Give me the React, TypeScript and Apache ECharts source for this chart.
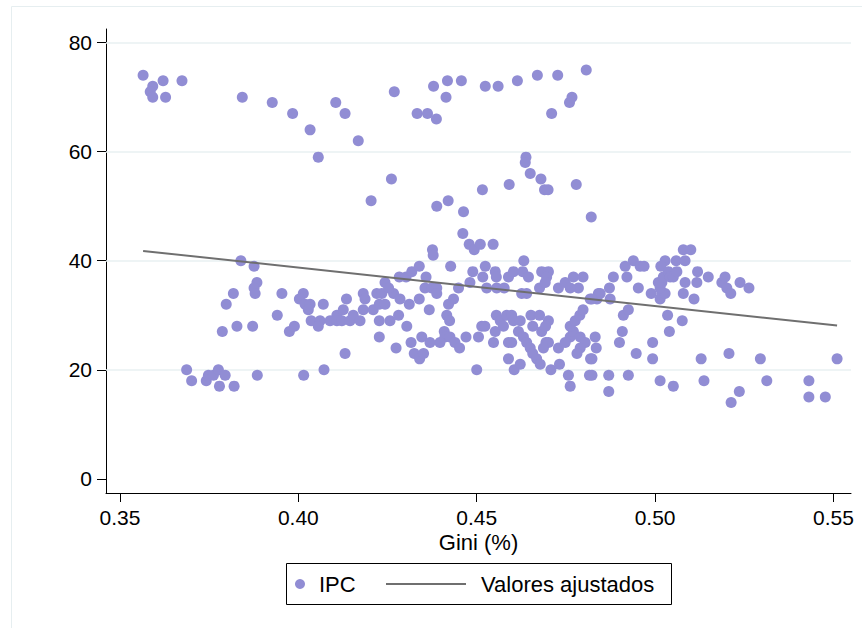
import React, { useEffect, useRef } from "react";
import * as echarts from "echarts";

// IPC vs Gini observations [gini, ipc]
const ipcPoints: [number, number][] = [
  // upper cluster
  [0.3565, 74], [0.3592, 72], [0.3585, 71], [0.3592, 70], [0.3621, 73], [0.3628, 70], [0.3674, 73],
  [0.3843, 70], [0.3927, 69], [0.3984, 67], [0.4033, 64], [0.4056, 59], [0.4105, 69], [0.4131, 67],
  [0.4168, 62], [0.4204, 51], [0.4261, 55], [0.4269, 71], [0.4333, 67], [0.4362, 67], [0.4387, 66],
  [0.4379, 72], [0.4418, 73], [0.4414, 70], [0.4457, 73], [0.4524, 72], [0.456, 72], [0.4614, 73],
  [0.467, 74], [0.4727, 74], [0.4807, 75], [0.471, 67], [0.476, 69], [0.4767, 70], [0.4388, 50],
  [0.442, 51], [0.4463, 49], [0.4638, 59], [0.4636, 58], [0.465, 56], [0.468, 55], [0.469, 53],
  [0.47, 53], [0.4591, 54], [0.4516, 53], [0.4779, 54], [0.4821, 48], [0.4461, 45],
  // 39-43
  [0.4479, 43], [0.4493, 42], [0.451, 43], [0.4546, 43], [0.4376, 42], [0.4378, 41], [0.4427, 39],
  [0.4632, 40], [0.3839, 40], [0.3876, 39], [0.5079, 42], [0.51, 42], [0.4939, 40], [0.5028, 40],
  [0.5059, 40], [0.5084, 40],
  // 31-39
  [0.3884, 36], [0.3876, 35], [0.3879, 34], [0.3818, 34], [0.3798, 32], [0.3954, 34], [0.4014, 34],
  [0.4003, 33], [0.4019, 32], [0.4033, 32], [0.4028, 31], [0.407, 32], [0.4135, 33], [0.4182, 34],
  [0.4187, 33], [0.4243, 36], [0.422, 34], [0.4234, 34], [0.4267, 34], [0.4285, 33], [0.4253, 35],
  [0.4283, 37], [0.4302, 37], [0.4318, 38], [0.4339, 39], [0.4358, 37], [0.4355, 35], [0.4374, 35],
  [0.4388, 35], [0.4388, 34], [0.4339, 33], [0.4311, 32], [0.4367, 31], [0.4449, 35], [0.4435, 33],
  [0.4421, 32], [0.4489, 38], [0.4524, 39], [0.4517, 37], [0.4552, 38], [0.4555, 37], [0.4481, 36],
  [0.4528, 35], [0.4556, 35], [0.4577, 35], [0.4589, 37], [0.4603, 38], [0.4629, 38], [0.4645, 37],
  [0.4626, 34], [0.464, 34], [0.4682, 38], [0.4701, 38], [0.4696, 37], [0.4676, 35], [0.4692, 36],
  [0.4729, 35], [0.4748, 36], [0.4771, 37], [0.4798, 37], [0.4785, 35], [0.4762, 35], [0.4818, 33],
  [0.4837, 33], [0.4841, 34], [0.4846, 34], [0.4823, 33], [0.4883, 37], [0.4921, 37], [0.4872, 35],
  [0.4874, 33], [0.4958, 39], [0.4969, 39], [0.4916, 39], [0.5016, 39], [0.4953, 35], [0.4989, 34],
  [0.5014, 33], [0.5019, 34], [0.5028, 34], [0.5014, 35], [0.5019, 36], [0.5009, 36], [0.5023, 37],
  [0.5037, 38], [0.5042, 37], [0.5051, 37], [0.5061, 38], [0.5084, 36], [0.5079, 34], [0.5109, 33],
  [0.5117, 36], [0.5119, 38], [0.5149, 37], [0.5187, 36], [0.5196, 37], [0.5201, 35], [0.5212, 34],
  [0.5238, 36], [0.5263, 35],
  // 26-31
  [0.4108, 30], [0.4126, 31], [0.4036, 29], [0.4061, 29], [0.4056, 28], [0.4089, 29], [0.4108, 29],
  [0.4122, 29], [0.4145, 29], [0.4154, 30], [0.4173, 29], [0.4182, 31], [0.421, 31], [0.4227, 32],
  [0.4243, 32], [0.4227, 29], [0.4257, 29], [0.4281, 30], [0.4304, 28], [0.4416, 30], [0.4424, 29],
  [0.3941, 30], [0.3975, 27], [0.3989, 28], [0.3787, 27], [0.3828, 28], [0.3872, 28], [0.4227, 26],
  [0.4346, 26], [0.4409, 27], [0.4411, 26], [0.4425, 26], [0.447, 26], [0.4505, 26], [0.4514, 28],
  [0.4523, 28], [0.4552, 27], [0.4555, 30], [0.4566, 29], [0.4575, 28], [0.4584, 30], [0.4598, 30],
  [0.4603, 29], [0.4622, 29], [0.4617, 27], [0.4631, 26], [0.4652, 30], [0.4676, 30], [0.4657, 28],
  [0.4682, 27], [0.4701, 29], [0.4693, 28], [0.4762, 26], [0.4771, 27], [0.4762, 28], [0.4776, 29],
  [0.4789, 30], [0.4798, 31], [0.479, 26], [0.4832, 26], [0.4911, 30], [0.4925, 31], [0.5035, 30],
  [0.5076, 29], [0.504, 27], [0.4908, 27],
  // 14-25
  [0.4131, 23], [0.4274, 24], [0.4316, 25], [0.4325, 23], [0.434, 22], [0.4351, 23], [0.4369, 25],
  [0.4397, 25], [0.4439, 25], [0.4452, 24], [0.45, 20], [0.4547, 25], [0.4589, 25], [0.4598, 25],
  [0.4589, 22], [0.4605, 20], [0.4622, 21], [0.464, 25], [0.465, 24], [0.4657, 23], [0.4668, 22],
  [0.4678, 21], [0.4694, 25], [0.4701, 25], [0.4687, 24], [0.4708, 20], [0.4732, 21], [0.4729, 24],
  [0.4757, 19], [0.4762, 17], [0.4748, 25], [0.4804, 25], [0.479, 24], [0.4781, 23], [0.4819, 22],
  [0.4816, 19], [0.4835, 24], [0.4823, 22], [0.49, 25], [0.4947, 23], [0.4993, 25], [0.4993, 22],
  [0.5129, 22], [0.5207, 23], [0.5295, 22], [0.551, 22], [0.4823, 19], [0.487, 19], [0.487, 16],
  [0.4925, 19], [0.5014, 18], [0.5051, 17], [0.5137, 18], [0.5236, 16], [0.5213, 14], [0.5313, 18],
  [0.5431, 18], [0.5431, 15], [0.5477, 15], [0.3687, 20], [0.3701, 18], [0.3742, 18], [0.3748, 19],
  [0.3762, 19], [0.3776, 20], [0.3795, 19], [0.3779, 17], [0.382, 17], [0.3885, 19], [0.4015, 19],
  [0.4072, 20],
];

// Fitted values (linear fit) at the extreme Gini values
const fittedGini = [0.3565, 0.551];
const fittedValues = [41.8, 28.1];

const xTicks = [0.35, 0.4, 0.45, 0.5, 0.55];
const yTicks = [0, 20, 40, 60, 80];
const yGridLines = [20, 40, 60, 80];

const FONT = "'Liberation Sans', Arial, Helvetica, sans-serif";
const MARKER = "#918dd4";
const FITLINE = "#6f6f6f";
const GRID = "#e8f0f2";

export default function App() {
  const ref = useRef<HTMLDivElement>(null);

  useEffect(() => {
    if (!ref.current) return;
    const chart = echarts.init(ref.current, undefined, { renderer: "svg" });
    const option: any = {
      animation: false,
      backgroundColor: "#ffffff",
      textStyle: { fontFamily: FONT },
      grid: { left: 106, right: 11, top: 29, bottom: 135, containLabel: false },
      xAxis: {
        type: "value",
        min: 0.3461,
        max: 0.5549,
        name: "Gini (%)",
        nameLocation: "middle",
        nameGap: 38,
        nameMoveOverlap: false,
        nameTextStyle: { color: "#000", fontSize: 22, lineHeight: 22, fontFamily: FONT },
        axisLine: { show: true, onZero: false, lineStyle: { color: "#000", width: 1 } },
        axisTick: { show: true, length: 9, customValues: xTicks, lineStyle: { color: "#000", width: 1 } },
        axisLabel: {
          customValues: xTicks,
          margin: 14,
          color: "#000",
          fontSize: 21,
          lineHeight: 20,
          fontFamily: FONT,
          formatter: (v: number) => v.toFixed(2),
        },
        splitLine: { show: false },
      },
      yAxis: {
        type: "value",
        min: -2.6,
        max: 82.5,
        axisLine: { show: true, onZero: false, lineStyle: { color: "#000", width: 1 } },
        axisTick: { show: true, length: 9, customValues: yTicks, lineStyle: { color: "#000", width: 1 } },
        axisLabel: {
          customValues: yTicks,
          margin: 14,
          color: "#000",
          fontSize: 21,
          fontFamily: FONT,
          formatter: (v: number) => String(Math.round(v)),
        },
        splitLine: { show: false },
      },
      legend: [
        {
          data: [{ name: "IPC", icon: "circle" }],
          left: 295,
          top: 573,
          padding: 0,
          itemWidth: 10,
          itemHeight: 10,
          selectedMode: false,
          textStyle: { color: "#000", fontSize: 22, fontFamily: FONT, padding: [0, 0, 0, 9] },
        },
        {
          data: [{ name: "Valores ajustados", icon: "rect" }],
          left: 386,
          top: 573,
          padding: 0,
          itemWidth: 80,
          itemHeight: 2,
          selectedMode: false,
          itemStyle: { color: FITLINE },
          textStyle: { color: "#000", fontSize: 22, fontFamily: FONT, padding: [0, 0, 0, 10] },
        },
      ],
      graphic: [
        {
          type: "rect",
          z: -10,
          silent: true,
          shape: { x: 11.5, y: 6.5, width: 880, height: 660 },
          style: { fill: "none", stroke: "#e6eef0", lineWidth: 1 },
        },
        {
          type: "rect",
          z: 0,
          silent: true,
          shape: { x: 286.5, y: 563.5, width: 385, height: 41 },
          style: { fill: "#fff", stroke: "#000", lineWidth: 1 },
        },
      ],
      series: [
        {
          name: "IPC",
          type: "scatter",
          data: ipcPoints,
          symbol: "circle",
          symbolSize: 11,
          itemStyle: { color: MARKER, opacity: 1 },
          z: 3,
          markLine: {
            silent: true,
            symbol: "none",
            label: { show: false },
            lineStyle: { color: GRID, width: 1.5, type: "solid" },
            data: yGridLines.map((v) => ({ yAxis: v })),
            z: 1,
          },
        },
        {
          name: "Valores ajustados",
          type: "line",
          data: fittedGini.map((g, i) => [g, fittedValues[i]]),
          showSymbol: false,
          symbol: "none",
          lineStyle: { color: FITLINE, width: 2 },
          itemStyle: { color: FITLINE },
          z: 4,
        },
      ],
    };
    chart.setOption(option);
    return () => chart.dispose();
  }, []);

  return (
    <div
      ref={ref}
      style={{ position: "absolute", left: 0, top: 0, width: 862, height: 628 }}
    />
  );
}
